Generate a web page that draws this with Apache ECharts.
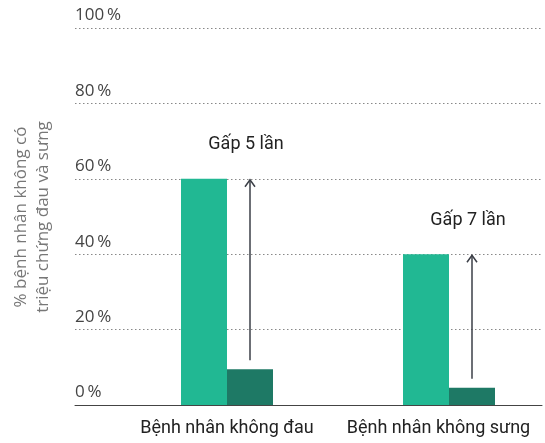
<!DOCTYPE html>
<html>
<head>
<meta charset="utf-8">
<script src="https://cdn.jsdelivr.net/npm/echarts@6/dist/echarts.min.js"></script>
<style>
  html, body { margin: 0; padding: 0; background: #fff; }
  #chart { width: 545px; height: 443px; }
</style>
</head>
<body>
<div id="chart"></div>
<script>
    // data
    var categories = ['Bệnh nhân không đau', 'Bệnh nhân không sưng'];
    var treated = [60, 40];
    var placebo = [9.5, 4.6];
    var ratioLabels = ['Gấp 5 lần', 'Gấp 7 lần'];
    var yTicks = [0, 20, 40, 60, 80, 100];
    var yTitle = '% bệnh nhân không có\ntriệu chứng đau và sưng';

    var chart = echarts.init(document.getElementById('chart'));

    var barW = 46;

    var option = {
        animation: false,
        grid: [
            // grid for the value axis + dotted lines
            { left: 75, right: 3, top: 28, bottom: 38, outerBoundsMode: 'none' },
            // grid for the bars
            { left: 116, width: 444, top: 28, bottom: 38, outerBoundsMode: 'none' }
        ],
        xAxis: [{
            gridIndex: 0,
            type: 'value',
            min: 0, max: 1,
            axisLine: { show: true, lineStyle: { color: '#444', width: 1 } },
            axisTick: { show: false },
            axisLabel: { show: false },
            splitLine: { show: false }
        }, {
            gridIndex: 1,
            type: 'category',
            data: categories,
            axisLine: { show: false },
            axisTick: { show: false },
            axisLabel: {
                interval: 0,
                hideOverlap: false,
                margin: 14,
                color: '#222',
                fontFamily: 'Roboto',
                fontSize: 18,
                // the second label sits a bit left of its bars
                formatter: function (v, i) {
                    return i === 1 ? '{s|' + v + '}' : v;
                },
                rich: {
                    s: { color: '#222', fontFamily: 'Roboto', fontSize: 18, padding: [0, 21, 0, 0] }
                }
            }
        }],
        yAxis: [{
            gridIndex: 0,
            type: 'value',
            min: yTicks[0],
            max: yTicks[yTicks.length - 1],
            interval: 20,
            axisLine: { show: false },
            axisTick: { show: false },
            axisLabel: {
                inside: true,
                margin: 0,
                verticalAlign: 'bottom',
                padding: [0, 0, 4, 0],
                color: '#444',
                fontFamily: 'Open Sans',
                fontSize: 17,
                formatter: function (v) { return v + '\u2009%'; }
            },
            splitLine: {
                show: true,
                lineStyle: { color: '#888', type: [1.5, 2.5], width: 1 }
            }
        }, {
            gridIndex: 1,
            type: 'value',
            min: yTicks[0],
            max: yTicks[yTicks.length - 1],
            show: false
        }],
        graphic: [{
            type: 'text',
            x: 32,
            y: 217,
            rotation: Math.PI / 2,
            style: {
                text: yTitle,
                align: 'center',
                verticalAlign: 'middle',
                lineHeight: 22,
                fill: '#777',
                font: '17px "Open Sans"'
            }
        }],
        series: [{
            type: 'bar',
            xAxisIndex: 1, yAxisIndex: 1,
            data: treated,
            barWidth: barW,
            barGap: '0%',
            itemStyle: { color: '#21b893' }
        }, {
            type: 'bar',
            xAxisIndex: 1, yAxisIndex: 1,
            data: placebo,
            barWidth: barW,
            barGap: '0%',
            itemStyle: { color: '#1e7965' }
        }, {
            // arrows from placebo bar up to treated level
            type: 'custom',
            xAxisIndex: 1, yAxisIndex: 1,
            clip: false,
            data: categories.map(function (c, i) { return [i, treated[i], placebo[i]]; }),
            renderItem: function (params, api) {
                var top = api.coord([api.value(0), api.value(1)]);
                var bot = api.coord([api.value(0), api.value(2)]);
                var x = top[0] + barW / 2;
                var y1 = top[1] + 1;
                var y2 = bot[1] - 9;
                var col = '#3b3f47';
                return {
                    type: 'group',
                    children: [{
                        type: 'line',
                        shape: { x1: x, y1: y1, x2: x, y2: y2 },
                        style: { stroke: col, lineWidth: 1.5 }
                    }, {
                        type: 'polyline',
                        shape: { points: [[x - 5, y1 + 7], [x, y1], [x + 5, y1 + 7]] },
                        style: { stroke: col, lineWidth: 1.5, fill: null }
                    }, {
                        type: 'text',
                        style: {
                            text: ratioLabels[params.dataIndex],
                            x: x - 4,
                            y: top[1] - 34,
                            align: 'center',
                            verticalAlign: 'middle',
                            fill: '#222',
                            font: '18px Roboto'
                        }
                    }]
                };
            }
        }]
    };

    chart.setOption(option);
</script>
</body>
</html>
